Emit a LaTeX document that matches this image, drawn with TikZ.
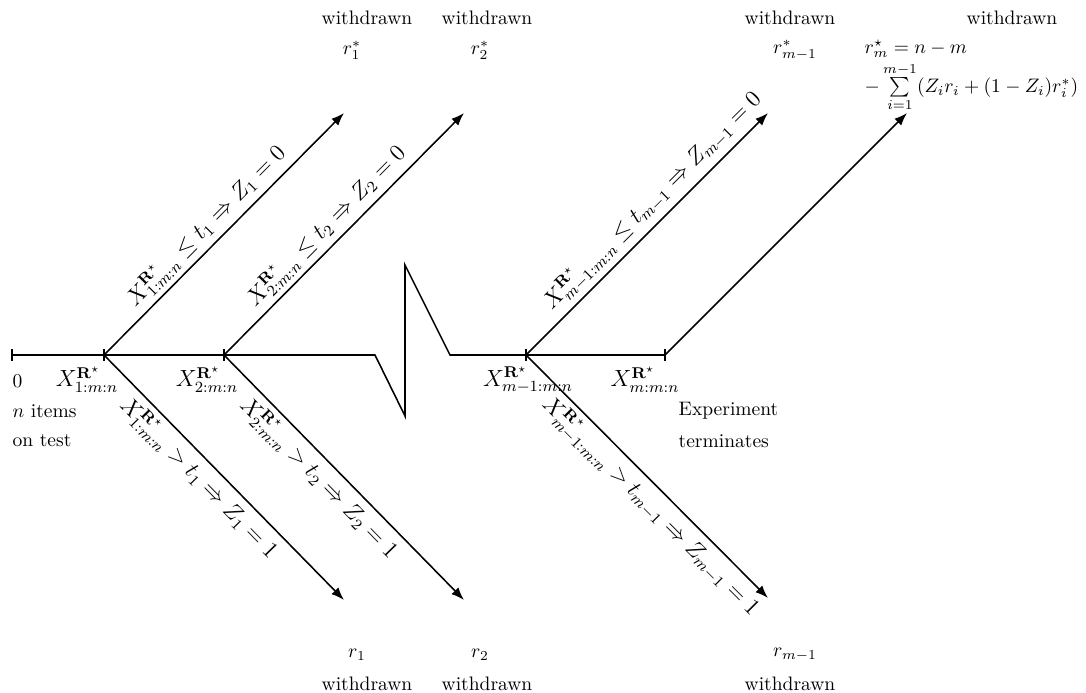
\documentclass[tikz,border=0pt]{standalone}
\usepackage{amsmath, amssymb}
\usetikzlibrary{arrows.meta, positioning}

\begin{document}
\begin{tikzpicture}[x=0.018cm, y=-0.018cm, thick,
  branch/.style={-{Latex}},
  lbl/.style={inner sep=1pt},
  xlbl/.style={inner sep=1pt, font=\large},
  cond/.style={sloped, inner sep=2.5pt, font=\large}
]
\useasboundingbox (0,0) rectangle (1086,692);

% time axis with the break
\coordinate (o)   at (12,355);
\coordinate (x1)  at (104,355);
\coordinate (x2)  at (224,355);
\coordinate (za)  at (375,355);
\coordinate (zb)  at (405,416);
\coordinate (zc)  at (405,265);
\coordinate (zd)  at (450,355);
\coordinate (xm1) at (526,355);
\coordinate (xm)  at (665,355);
\draw (o) -- (x1) -- (x2) -- (za) -- (zb) -- (zc) -- (zd) -- (xm1) -- (xm);
\foreach \p in {o,x1,x2,xm1,xm}
  \draw (\p) +(0,-6) -- +(0,6);

% ends of the branches
\coordinate (u1)  at (344,113);
\coordinate (u2)  at (464,113);
\coordinate (um1) at (768,113);
\coordinate (um)  at (907,113);
\coordinate (d1)  at (344,600);
\coordinate (d2)  at (464,600);
\coordinate (dm1) at (768,598);

\draw[branch] (x1) -- (u1) node[cond, pos=0.48, above] {$X^{\mathbf{R}^\star}_{1:m:n}\le t_1\Rightarrow Z_1=0$};
\draw[branch] (x2) -- (u2) node[cond, pos=0.48, above] {$X^{\mathbf{R}^\star}_{2:m:n}\le t_2\Rightarrow Z_2=0$};
\draw[branch] (xm1) -- (um1) node[cond, pos=0.58, above] {$X^{\mathbf{R}^\star}_{m-1:m:n}\le t_{m-1}\Rightarrow Z_{m-1}=0$};
\draw[branch] (xm) -- (um);
\draw[branch] (x1) -- (d1) node[cond, pos=0.45, below] {$X^{\mathbf{R}^\star}_{1:m:n}> t_1\Rightarrow Z_1=1$};
\draw[branch] (x2) -- (d2) node[cond, pos=0.45, below] {$X^{\mathbf{R}^\star}_{2:m:n}> t_2\Rightarrow Z_2=1$};
\draw[branch] (xm1) -- (dm1) node[cond, pos=0.57, below] {$X^{\mathbf{R}^\star}_{m-1:m:n}> t_{m-1}\Rightarrow Z_{m-1}=1$};

% labels on the axis
\node[lbl, anchor=west] (l0)  at (10,381) {$0$};
\node[lbl, anchor=west] (l0a) at (10,411) {$n$ items};
\node[lbl, anchor=west] (l0b) at (10,441) {on test};
\node[xlbl] (lx1)  at (87,380)  {$X^{\mathbf{R}^\star}_{1:m:n}$};
\node[xlbl] (lx2)  at (207,380) {$X^{\mathbf{R}^\star}_{2:m:n}$};
\node[xlbl] (lxm1) at (528,380) {$X^{\mathbf{R}^\star}_{m-1:m:n}$};
\node[xlbl] (lxm)  at (645,380) {$X^{\mathbf{R}^\star}_{m:m:n}$};
\node[lbl, anchor=west] (exa) at (676,411) {Experiment};
\node[lbl, anchor=west] (exb) at (676,441) {terminates};

% removals at the top
\node[lbl] (w1)  at (367,18)  {withdrawn};
\node[lbl] (w2)  at (487,18)  {withdrawn};
\node[lbl] (wm1) at (790,18)  {withdrawn};
\node[lbl] (wm)  at (1012,18) {withdrawn};
\node[lbl] (s1)  at (352,50)  {$r_1^*$};
\node[lbl] (s2)  at (480,50)  {$r_2^*$};
\node[lbl] (sm1) at (795,50)  {$r_{m-1}^*$};
\node[lbl, anchor=north west] (sm) at (862,34)
  {$\begin{array}{@{}l@{}} r^\star_m = n-m\\[1.5pt] -\sum\limits_{i=1}^{m-1}(Z_ir_i+(1-Z_i)r_i^*)\end{array}$};

% removals at the bottom
\node[lbl] (r1)  at (357,655) {$r_1$};
\node[lbl] (r2)  at (480,655) {$r_2$};
\node[lbl] (rm1) at (795,655) {$r_{m-1}$};
\node[lbl] (b1)  at (367,684) {withdrawn};
\node[lbl] (b2)  at (487,684) {withdrawn};
\node[lbl] (bm1) at (790,684) {withdrawn};
\end{tikzpicture}
\end{document}
